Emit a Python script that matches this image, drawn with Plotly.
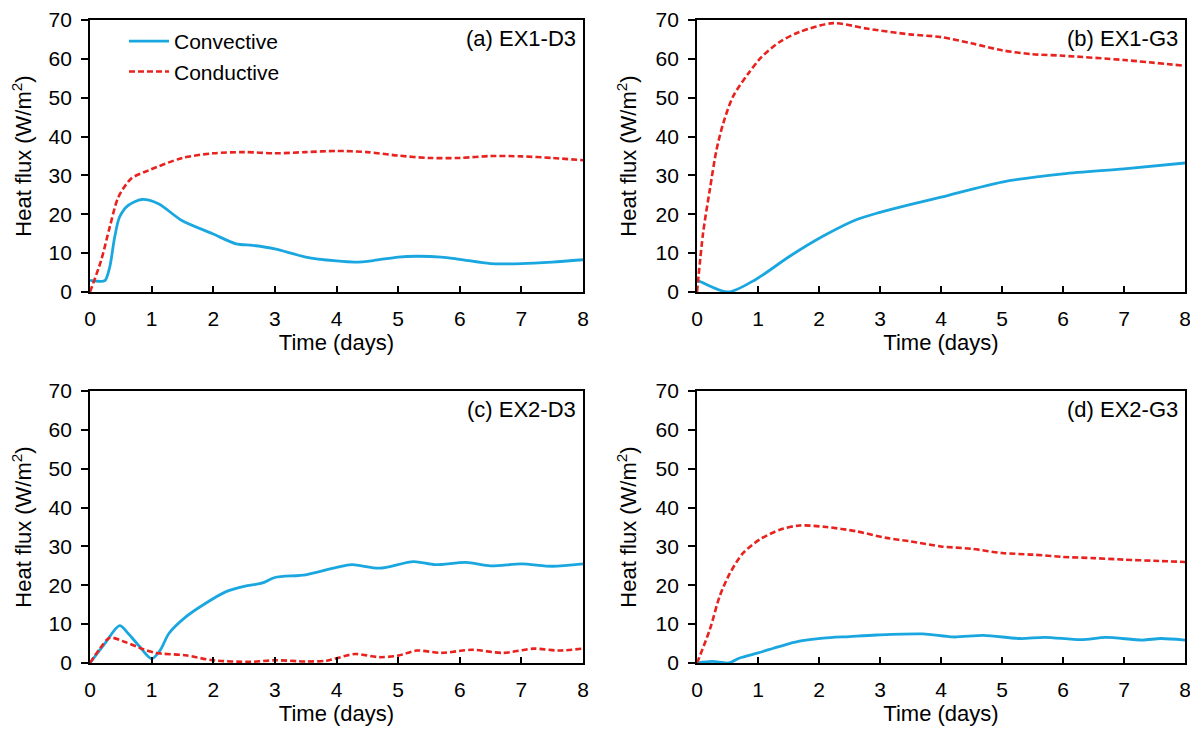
import plotly.graph_objects as go

# ---------------- data ----------------
# (a) EX1-D3
a_conv_t = [0, 0.1, 0.24, 0.32, 0.4, 0.48, 0.62, 0.84, 1.11, 1.49, 1.99, 2.37, 2.64, 3.0, 3.5, 4.0, 4.3, 4.6, 5.0, 5.3, 5.7, 6.0, 6.5, 7.0, 7.5, 8.0]
a_conv_v = [3.0, 2.8, 2.9, 6.4, 14.1, 19.3, 22.3, 23.8, 22.7, 18.4, 15.0, 12.4, 12.0, 11.1, 9.0, 8.0, 7.7, 8.1, 9.0, 9.2, 9.0, 8.4, 7.3, 7.3, 7.7, 8.3]
a_cond_t = [0, 0.18, 0.32, 0.46, 0.67, 0.95, 1.5, 2.0, 2.5, 3.0, 3.5, 4.0, 4.5, 5.0, 5.5, 6.0, 6.5, 7.0, 7.5, 8.0]
a_cond_v = [0, 8.1, 16.7, 24.4, 29.2, 31.3, 34.5, 35.7, 36.0, 35.7, 36.0, 36.3, 36.0, 35.1, 34.5, 34.5, 35.0, 34.9, 34.5, 33.9]

# (b) EX1-G3
b_conv_t = [0, 0.03, 0.51, 0.97, 1.52, 2.07, 2.61, 3.0, 3.49, 4.0, 5.0, 6.0, 7.0, 8.0]
b_conv_v = [2.8, 2.8, 0.0, 3.3, 9.2, 14.4, 18.6, 20.5, 22.5, 24.4, 28.3, 30.4, 31.7, 33.2]
b_cond_t = [0, 0.1, 0.21, 0.32, 0.43, 0.59, 0.84, 1.06, 1.36, 1.68, 2.23, 2.78, 3.49, 4.0, 4.5, 5.0, 5.5, 6.0, 7.0, 8.0]
b_cond_v = [0, 15.2, 26.3, 36.6, 43.4, 50.3, 56.2, 60.5, 64.4, 66.9, 69.2, 67.8, 66.3, 65.6, 64.0, 62.2, 61.2, 60.8, 59.7, 58.2]

# (c) EX2-D3
c_conv_t = [0, 0.24, 0.48, 0.62, 0.79, 1.0, 1.14, 1.28, 1.55, 1.82, 2.2, 2.5, 2.8, 3.0, 3.5, 4.0, 4.25, 4.7, 5.25, 5.6, 6.1, 6.5, 7.0, 7.5, 8.0]
c_conv_v = [0, 5.0, 9.6, 7.6, 4.5, 1.1, 3.3, 7.6, 11.8, 14.8, 18.3, 19.7, 20.6, 22.0, 22.7, 24.6, 25.3, 24.4, 26.1, 25.3, 25.9, 25.0, 25.5, 24.9, 25.5]
c_cond_t = [0, 0.16, 0.32, 0.57, 0.84, 1.06, 1.55, 1.99, 2.6, 3.02, 3.5, 3.84, 4.3, 4.7, 5.0, 5.3, 5.7, 6.2, 6.7, 7.2, 7.6, 8.0]
c_cond_v = [0, 3.7, 6.5, 5.4, 3.7, 2.6, 2.0, 0.7, 0.3, 0.7, 0.4, 0.6, 2.3, 1.5, 1.9, 3.2, 2.6, 3.4, 2.6, 3.7, 3.2, 3.7]

# (d) EX2-G3
d_conv_t = [0, 0.25, 0.51, 0.7, 1.0, 1.36, 1.68, 2.07, 2.5, 2.94, 3.7, 4.2, 4.7, 5.3, 5.7, 6.3, 6.7, 7.3, 7.6, 8.0]
d_conv_v = [0, 0.4, 0.0, 1.3, 2.6, 4.3, 5.6, 6.4, 6.8, 7.2, 7.5, 6.7, 7.1, 6.3, 6.6, 6.0, 6.6, 5.9, 6.3, 5.9]
d_cond_t = [0, 0.21, 0.37, 0.54, 0.75, 1.03, 1.36, 1.68, 2.12, 2.61, 3.1, 3.5, 4.0, 4.5, 5.0, 5.5, 6.0, 6.5, 7.0, 7.5, 8.0]
d_cond_v = [0, 8.6, 17.1, 23.1, 28.2, 31.8, 34.3, 35.4, 35.0, 33.9, 32.2, 31.3, 30.0, 29.4, 28.3, 27.9, 27.3, 27.0, 26.6, 26.3, 26.0]

panel_labels = ["(a) EX1-D3", "(b) EX1-G3", "(c) EX2-D3", "(d) EX2-G3"]
series_names = ["Convective", "Conductive"]
x_ticks = [0, 1, 2, 3, 4, 5, 6, 7, 8]
y_ticks = [0, 10, 20, 30, 40, 50, 60, 70]

panels = [
    (a_conv_t, a_conv_v, a_cond_t, a_cond_v),
    (b_conv_t, b_conv_v, b_cond_t, b_cond_v),
    (c_conv_t, c_conv_v, c_cond_t, c_cond_v),
    (d_conv_t, d_conv_v, d_cond_t, d_cond_v),
]

# ---------------- style ----------------
OFF = 8  # page body margin of the generated html
W, H = 1198 - OFF, 730 - OFF
FONT = "Liberation Sans, Arial, sans-serif"
BLUE = "#1AA7E0"
RED = "#E8221E"


def px_x(p):
    return (p - OFF) / W


def px_y(p):
    return 1 - (p - OFF) / H


xdoms = [[px_x(90), px_x(583)], [px_x(697), px_x(1185)]]
ydoms = [[px_y(292), px_y(20)], [px_y(663), px_y(391)]]

fig = go.Figure()
layout = dict(
    width=W, height=H,
    margin=dict(l=0, r=0, t=0, b=0, autoexpand=False),
    paper_bgcolor="white", plot_bgcolor="white",
    font=dict(family=FONT, size=21, color="black"),
    showlegend=True,
    legend=dict(x=116 / W, y=1 - 13 / H, xanchor="left", yanchor="top",
                bgcolor="rgba(0,0,0,0)", font=dict(size=21), tracegroupgap=0,
                itemwidth=40),
)
annotations = []
for i, (ct, cv, kt, kv) in enumerate(panels):
    n = "" if i == 0 else str(i + 1)
    xa, ya = "x" + n, "y" + n
    fig.add_trace(go.Scatter(x=ct, y=cv, mode="lines", name=series_names[0],
                             line=dict(color=BLUE, width=2.8, shape="spline", smoothing=0.8),
                             xaxis=xa, yaxis=ya, showlegend=(i == 0)))
    fig.add_trace(go.Scatter(x=kt, y=kv, mode="lines", name=series_names[1],
                             line=dict(color=RED, width=2.6, dash="6px,3px", shape="spline", smoothing=0.8),
                             xaxis=xa, yaxis=ya, showlegend=(i == 0)))
    r, c = divmod(i, 2)
    layout["xaxis" + n] = dict(
        domain=xdoms[c], anchor=ya, range=[0, 8], tickvals=x_ticks,
        ticks="inside", ticklen=6, tickwidth=1.5, tickcolor="black",
        ticklabelstandoff=7, automargin=False,
        showline=True, linecolor="black", linewidth=1.8, mirror=True,
        showgrid=False, zeroline=False, tickfont=dict(size=21),
        title=dict(text="Time (days)", font=dict(size=22), standoff=2),
    )
    layout["yaxis" + n] = dict(
        domain=ydoms[r], anchor=xa, range=[0, 70], tickvals=y_ticks,
        ticks="outside", ticklen=7, tickwidth=1.5, tickcolor="black",
        ticklabelstandoff=5, automargin=False,
        showline=True, linecolor="black", linewidth=1.8, mirror=True,
        showgrid=False, zeroline=False, tickfont=dict(size=21),
        title=dict(text="Heat flux (W/m<sup>2</sup>)", font=dict(size=22), standoff=13),
    )
    annotations.append(dict(text=panel_labels[i], xref=xa + " domain", yref=ya + " domain",
                            x=0.99, y=0.987, xanchor="right", yanchor="top",
                            showarrow=False, font=dict(size=22)))
layout["annotations"] = annotations
fig.update_layout(**layout)
fig.write_html("out.html")
